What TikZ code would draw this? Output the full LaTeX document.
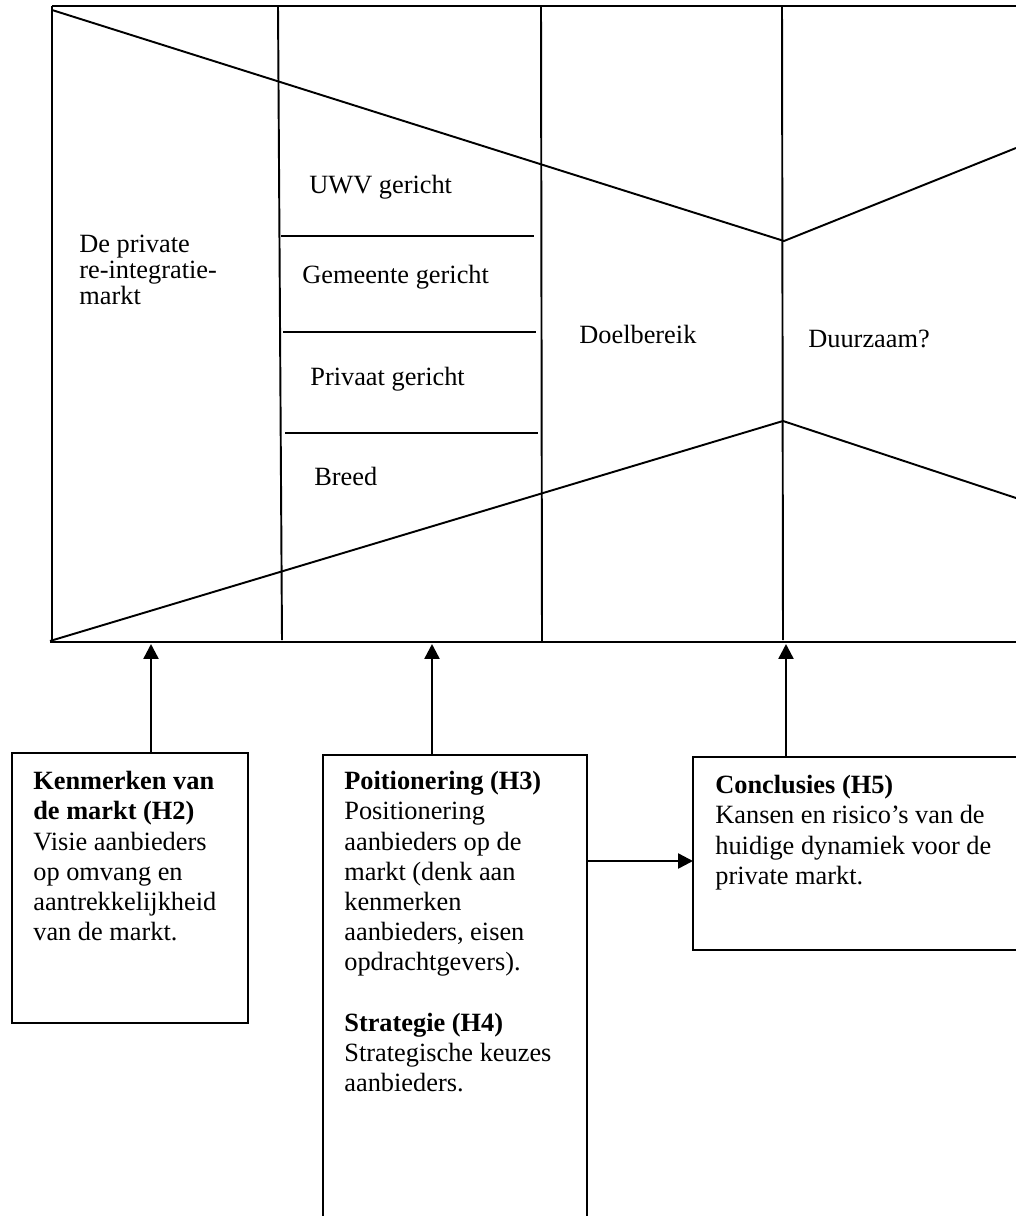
\documentclass[tikz,border=0pt]{standalone}
\usepackage{fontspec}
\setmainfont{Liberation Serif}
\usetikzlibrary{arrows.meta,positioning}

\tikzset{
	lijn/.style={line width=1.1pt},
	pijl/.style={line width=1.4pt, -{Triangle[length=8.5pt,width=8.5pt]}},
	kader/.style={draw, line width=1.1pt, rectangle, inner sep=0pt, outer sep=0pt, anchor=north west},
	tekst/.style={inner sep=0pt, anchor=base west, font=\fontsize{15}{14.8}\selectfont},
	blok/.style={inner sep=0pt, anchor=north west, align=left, font=\fontsize{15}{17.2}\selectfont},
}

\begin{document}
\begin{tikzpicture}[x=0.02cm, y=-0.02cm]
			%%%%% START %%%%%
			\useasboundingbox (0,0) rectangle (1016,1216);
			\clip (0,0) rectangle (1016,1216);
			
			% het kader
			\draw[lijn] (52,6) -- (1016,6);
			\draw[lijn] (52,6) -- (52,642);
			\draw[lijn] (50,642) -- (1016,642);
			
			\draw[lijn] (278,6) -- (282,640);
			\draw[lijn] (541,6) -- (542,642);
			\draw[lijn] (782,6) -- (783,640);
			
			\draw[lijn] (52,10) -- (784,241) -- (1016,148);
			\draw[lijn] (50,641) -- (783,421) -- (1016,498);
			
			\draw[lijn] (281,236) -- (534,236);
			\draw[lijn] (283,332) -- (536,332);
			\draw[lijn] (285,433) -- (538,433);
			
			\node[blok, font=\fontsize{15}{14.8}\selectfont] (markt) at (79,235) {De private\\re-integratie-\\markt};
			\node[tekst] (uwv) at (309,194) {UWV gericht};
			\node[tekst] (gemeente) at (302,284) {Gemeente gericht};
			\node[tekst] (privaat) at (310,385) {Privaat gericht};
			\node[tekst] (breed) at (314,485) {Breed};
			\node[tekst] (doel) at (579,343) {Doelbereik};
			\node[tekst] (duurzaam) at (808,347) {Duurzaam?};
			
			% de blokken
			\node[kader, minimum width=4.72cm, minimum height=5.4cm] (kenmerken) at (12,753) {};
			\node[kader, minimum width=5.28cm, minimum height=9.8cm] (positie) at (323,755) {};
			\node[kader, minimum width=6.74cm, minimum height=3.86cm] (conclusie) at (693,757) {};
			
			\node[blok, below right=0.36cm and 0.42cm of kenmerken.north west] (kenmerkentekst)
				{\textbf{Kenmerken van}\\\textbf{de markt (H2)}\\Visie aanbieders\\op omvang en\\aantrekkelijkheid\\van de markt.};
			\node[blok, below right=0.32cm and 0.42cm of positie.north west] (positietekst)
				{\textbf{Poitionering (H3)}\\Positionering\\aanbieders op de\\markt (denk aan\\kenmerken\\aanbieders, eisen\\opdrachtgevers).\\[17.2pt]\textbf{Strategie (H4)}\\Strategische keuzes\\aanbieders.};
			\node[blok, below right=0.36cm and 0.44cm of conclusie.north west] (conclusietekst)
				{\textbf{Conclusies (H5)}\\Kansen en risico’s van de\\huidige dynamiek voor de\\private markt.};
			
			% de pijlen
			\coordinate (doel1) at (151,644);
			\coordinate (doel2) at (432,644);
			\coordinate (doel3) at (786,644);
			\coordinate (midden) at (640,861);
			
			\draw[pijl] (kenmerken.north -| doel1) -- (doel1);
			\draw[pijl] (positie.north -| doel2) -- (doel2);
			\draw[pijl] (conclusie.north -| doel3) -- (doel3);
			\draw[pijl] (midden -| positie.east) -- (midden -| conclusie.west);
			%%%%% END %%%%%
\end{tikzpicture}
\end{document}
